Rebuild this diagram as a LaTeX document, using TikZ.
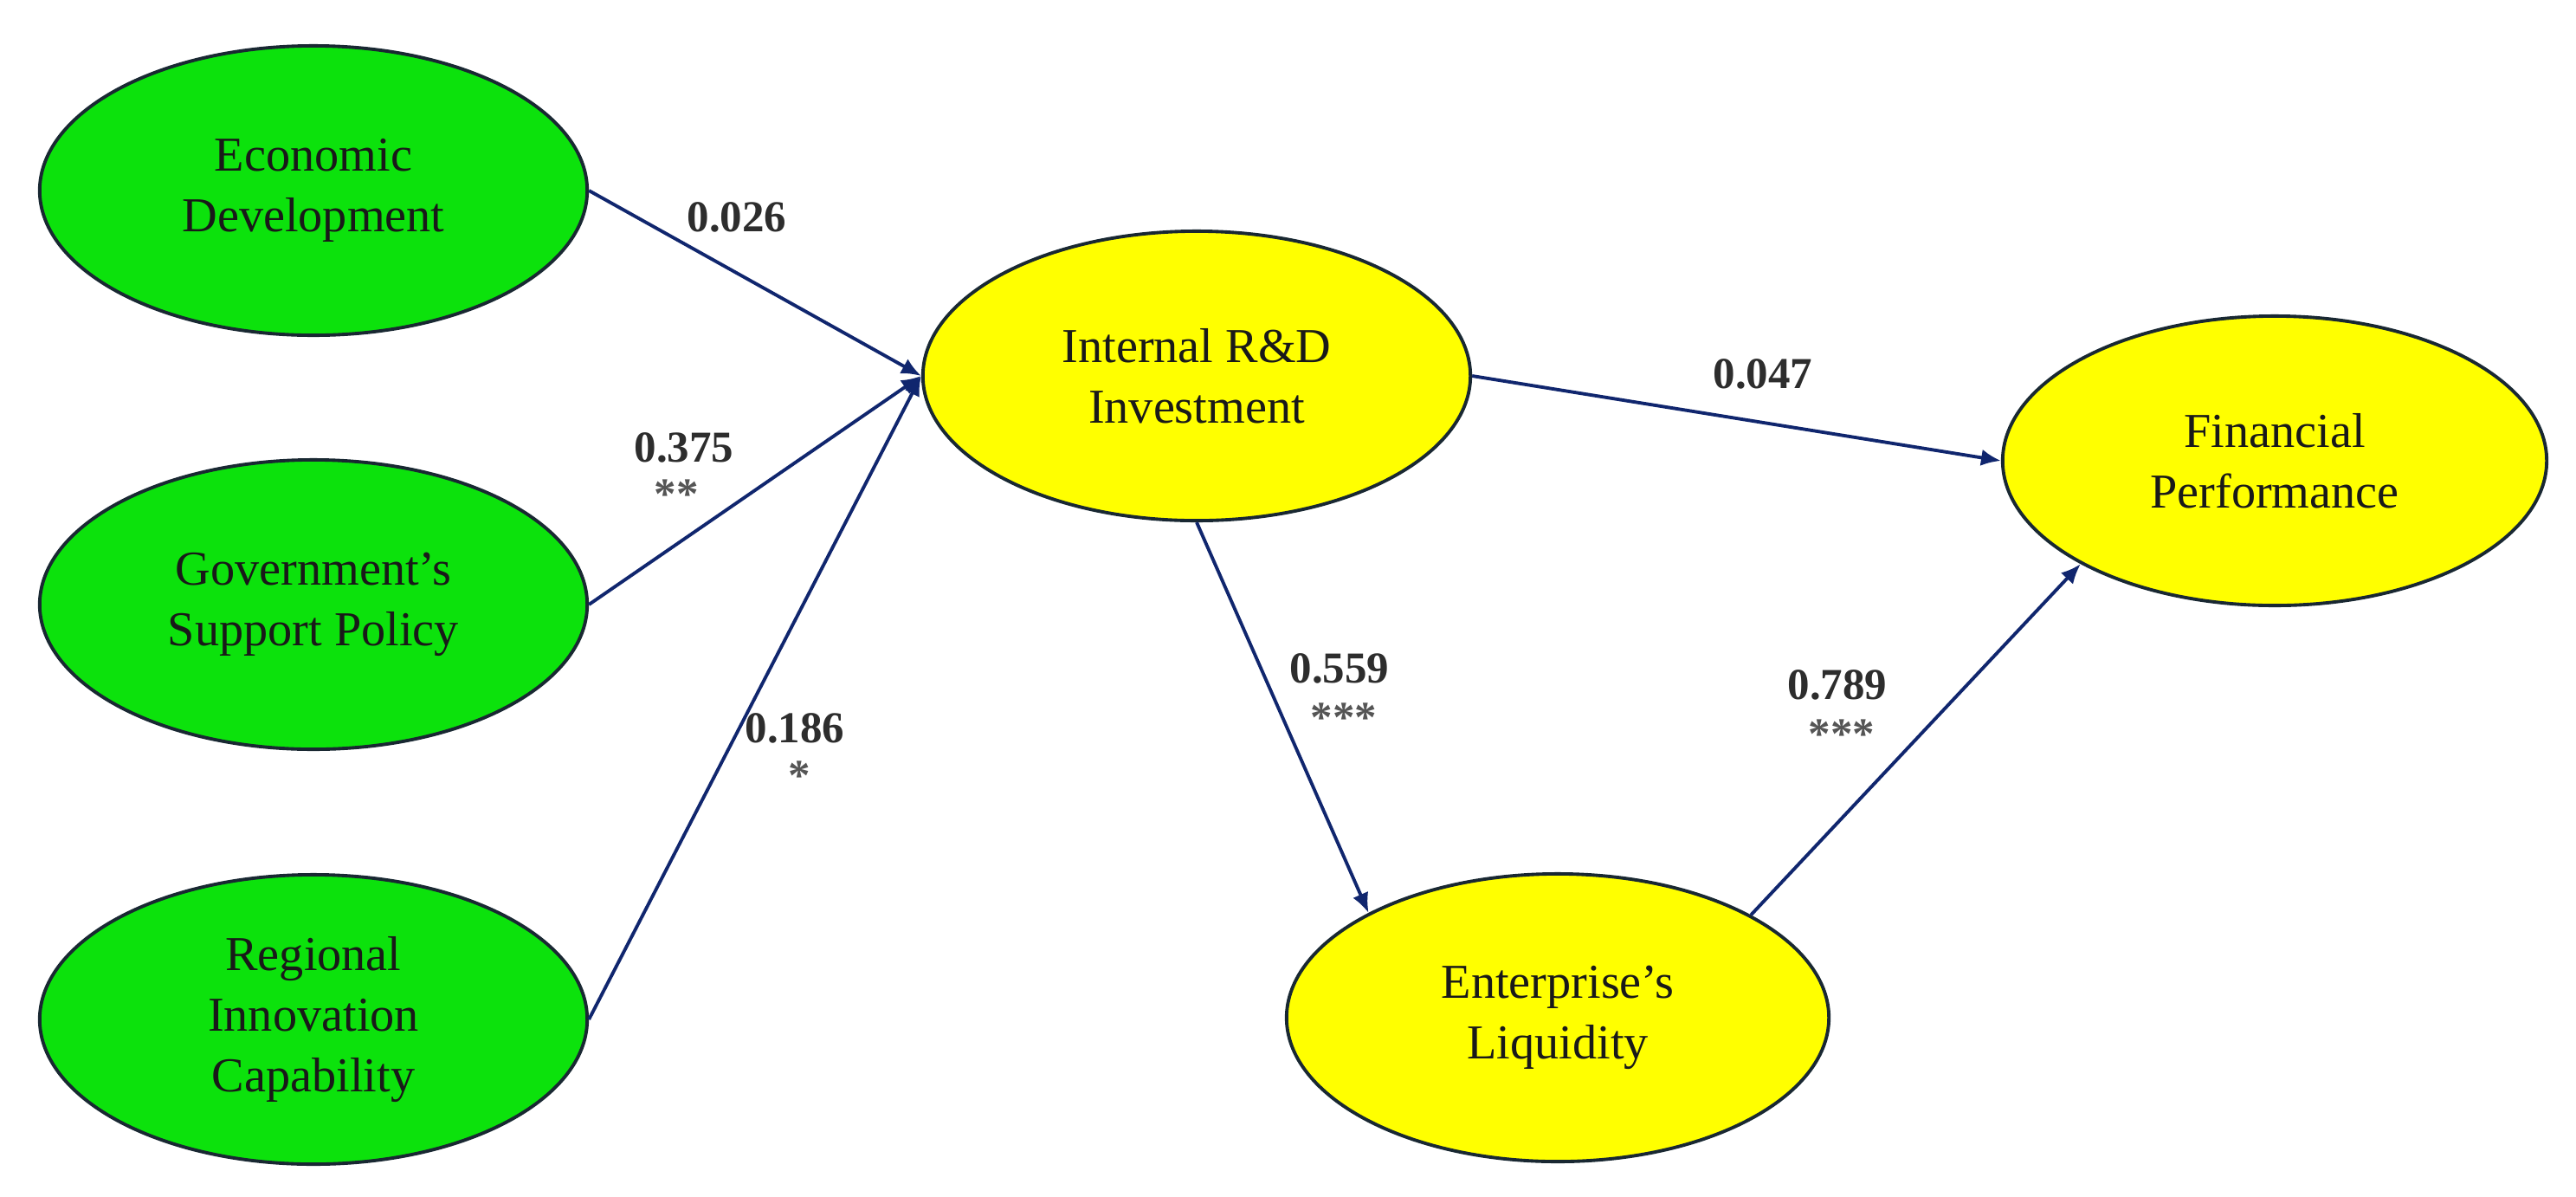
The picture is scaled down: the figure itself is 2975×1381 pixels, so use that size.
\documentclass[tikz,border=0pt]{standalone}
\usepackage{fontspec}
\setmainfont{Liberation Serif}
\usetikzlibrary{arrows.meta,shapes.geometric}
\definecolor{grn}{RGB}{12,226,12}
\definecolor{ylw}{RGB}{255,255,0}
\definecolor{edge}{RGB}{25,40,50}
\definecolor{navy}{RGB}{16,38,110}
\definecolor{lbl}{RGB}{45,45,45}
\definecolor{star}{RGB}{85,85,85}
\tikzset{
  construct/.style={ellipse, draw=edge, line width=1.1pt, inner sep=0pt,
    minimum width=6.32cm, minimum height=3.34cm, align=center,
    text=black!90, font=\fontsize{16}{20}\selectfont},
  greenc/.style={construct, fill=grn},
  yellowc/.style={construct, fill=ylw},
  path/.style={draw=navy, line width=1.1pt, -{Latex[length=6.5pt,width=5.5pt]}},
  coef/.style={text=lbl, font=\fontsize{14.5}{17}\selectfont\bfseries, inner sep=0pt},
  stars/.style={text=star, font=\fontsize{14.5}{17}\selectfont\bfseries, inner sep=0pt}
}
\begin{document}
\begin{tikzpicture}[x=0.01cm, y=-0.01cm]
\useasboundingbox (0,0) rectangle (2975,1381);
\fill[white] (0,0) rectangle (2975,1381);

\node[greenc] (ED) at (362,220) {Economic\\Development};
\node[greenc] (GS) at (362,698) {Government’s\\Support Policy};
\node[greenc] (RI) at (362,1177) {Regional\\Innovation\\Capability};
\node[yellowc] (IR) at (1382,434) {Internal R\&D\\Investment};
\node[yellowc, minimum width=6.28cm] (FP) at (2627,532) {Financial\\Performance};
\node[yellowc, minimum width=6.26cm, minimum height=3.32cm] (EL) at (1799,1175) {Enterprise’s\\Liquidity};

\draw[path] (ED.east) -- (IR.west);
\draw[path] (GS.east) -- (IR.west);
\draw[path] (RI.east) -- (IR.west);
\draw[path] (IR.east) -- (FP.west);
\draw[path] (IR.south) -- (EL.151);
\draw[path] (EL.28) -- (FP.208);

\node[coef] (l1) at (851,251) {0.026};
\node[coef] (l2) at (790,517) {0.375};
\node[stars] (s2) at (781,571) {**};
\node[coef] (l3) at (918,841) {0.186};
\node[stars] (s3) at (923,896) {*};
\node[coef] (l4) at (2036,432) {0.047};
\node[coef] (l5) at (1547,772) {0.559};
\node[stars] (s5) at (1552,829) {***};
\node[coef] (l6) at (2122,791) {0.789};
\node[stars] (s6) at (2127,848) {***};
\end{tikzpicture}
\end{document}
